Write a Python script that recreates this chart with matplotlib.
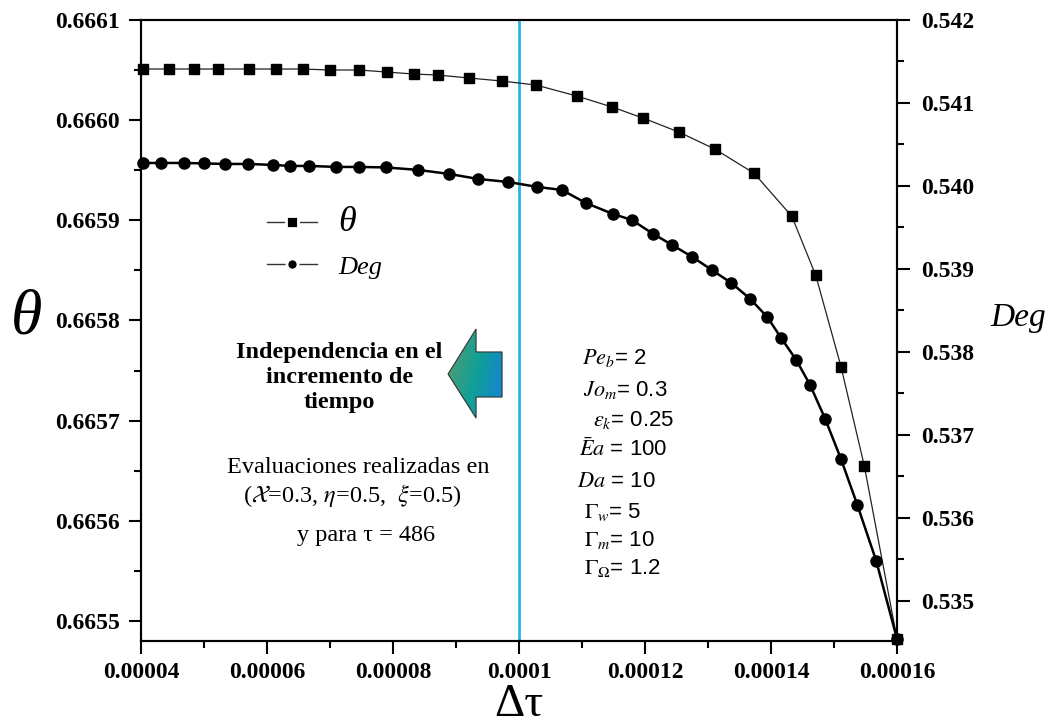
import numpy as np
import matplotlib
matplotlib.use('Agg')
import matplotlib.pyplot as plt
from matplotlib.lines import Line2D
from matplotlib.patches import Polygon
from matplotlib.colors import LinearSegmentedColormap

# theta (eje izquierdo) vs incremento de tiempo
dt_theta = [4.03e-5, 4.44e-5, 4.84e-5, 5.22e-5, 5.71e-5, 6.14e-5, 6.57e-5,
            7.0e-5, 7.46e-5, 7.9e-5, 8.33e-5, 8.71e-5, 9.21e-5, 9.73e-5,
            1.027e-4, 1.092e-4, 1.148e-4, 1.197e-4, 1.254e-4, 1.311e-4,
            1.373e-4, 1.433e-4, 1.471e-4, 1.511e-4, 1.548e-4, 1.6e-4]
theta = [0.666051, 0.666051, 0.666051, 0.666051, 0.666051, 0.666051, 0.666051,
         0.666050, 0.666050, 0.666048, 0.666046, 0.666045, 0.666042, 0.666039,
         0.666035, 0.666024, 0.666013, 0.666002, 0.665988, 0.665971,
         0.665947, 0.665904, 0.665845, 0.665754, 0.665655, 0.665482]

# Deg (eje derecho)
dt_deg = [4.03e-5, 4.32e-5, 4.68e-5, 5.0e-5, 5.33e-5, 5.70e-5, 6.10e-5, 6.37e-5,
          6.67e-5, 7.10e-5, 7.46e-5, 7.89e-5, 8.40e-5, 8.89e-5, 9.35e-5, 9.83e-5,
          1.029e-4, 1.068e-4, 1.106e-4, 1.149e-4, 1.179e-4, 1.213e-4, 1.243e-4,
          1.275e-4, 1.306e-4, 1.337e-4, 1.367e-4, 1.394e-4, 1.416e-4, 1.440e-4,
          1.462e-4, 1.486e-4, 1.511e-4, 1.537e-4, 1.567e-4, 1.6e-4]
deg = [0.540277, 0.540277, 0.540277, 0.540271, 0.540265, 0.540265, 0.540253,
       0.540241, 0.540241, 0.540229, 0.540229, 0.540223, 0.540193, 0.540145,
       0.540084, 0.540048, 0.539988, 0.539952, 0.539795, 0.539663, 0.539590,
       0.539422, 0.539289, 0.539145, 0.538988, 0.538831, 0.538639, 0.538422,
       0.538169, 0.537904, 0.537602, 0.537193, 0.536711, 0.536157, 0.535482,
       0.534542]

xticks = [4e-5, 6e-5, 8e-5, 1e-4, 1.2e-4, 1.4e-4, 1.6e-4]
xtick_labels = ['0.00004', '0.00006', '0.00008', '0.0001', '0.00012', '0.00014', '0.00016']
xminor = [5e-5, 7e-5, 9e-5, 1.1e-4, 1.3e-4, 1.5e-4]
theta_ticks = [0.6655, 0.6656, 0.6657, 0.6658, 0.6659, 0.6660, 0.6661]
theta_minor = [0.66555, 0.66565, 0.66575, 0.66585, 0.66595, 0.66605]
deg_ticks = [0.535, 0.536, 0.537, 0.538, 0.539, 0.540, 0.541, 0.542]
deg_minor = [0.5355, 0.5365, 0.5375, 0.5385, 0.5395, 0.5405, 0.5415]

params = [r'$Pe_b$= 2', r'$Jo_m$= 0.3', r'$\varepsilon_k$= 0.25', r'$\bar{E}a$ = 100',
          r'$Da$ = 10', r'$\Gamma_w$= 5', r'$\Gamma_m$= 10', r'$\Gamma_\Omega$= 1.2']

plt.rcParams['font.family'] = ['Liberation Serif', 'DejaVu Serif']
plt.rcParams['mathtext.fontset'] = 'stix'

fig = plt.figure(figsize=(10.51, 7.25), dpi=100)
ax = fig.add_axes([0.1342, 0.1159, 0.7193, 0.8566])
ax2 = ax.twinx()

ax.axvline(1e-4, color='#27b4e6', lw=2, zorder=1)
ax.plot(dt_theta, theta, color='#222222', lw=0.9, marker='s', ms=7.5,
        mfc='k', mec='k', clip_on=False, zorder=3)
ax2.plot(dt_deg, deg, color='k', lw=1.8, marker='o', ms=8,
         mfc='k', mec='k', clip_on=False, zorder=3)

ax.set_xlim(4e-5, 1.6e-4)
ax.set_ylim(0.66548, 0.6661)
ax2.set_ylim(0.534518, 0.542)

ax.set_xticks(xticks)
ax.set_xticklabels(xtick_labels, fontweight='bold')
ax.set_xticks(xminor, minor=True)
ax.set_yticks(theta_ticks)
ax.set_yticklabels(['%.4f' % v for v in theta_ticks], fontweight='bold')
ax.set_yticks(theta_minor, minor=True)
ax2.set_yticks(deg_ticks)
ax2.set_yticklabels(['%.3f' % v for v in deg_ticks], fontweight='bold')
ax2.set_yticks(deg_minor, minor=True)

for a in (ax, ax2):
    a.tick_params(which='major', direction='out', length=9, width=1.5, labelsize=17)
    a.tick_params(which='minor', direction='out', length=5, width=1.5)
    for s in a.spines.values():
        s.set_linewidth(1.5)
ax.tick_params(axis='y', pad=6)
ax.tick_params(axis='x', pad=6)
ax2.tick_params(axis='y', pad=8)

ax.set_ylabel('θ', rotation=0, fontsize=46, style='italic', va='center', ha='center')
ax.yaxis.set_label_coords(-0.151, 0.52)
ax2.set_ylabel('Deg', rotation=0, fontsize=24, style='italic', va='center', ha='center')
ax2.yaxis.set_label_coords(1.160, 0.52)
ax.set_xlabel('Δτ', fontsize=34, va='center')
ax.xaxis.set_label_coords(0.5, -0.103)

# leyenda
h1 = Line2D([], [], color='#333333', lw=1, marker='s', ms=8, mfc='k', mec='white', mew=2)
h2 = Line2D([], [], color='#333333', lw=1, marker='o', ms=8, mfc='k', mec='white', mew=2)
leg = ax2.legend([h1, h2], ['θ', 'Deg'], loc='upper left', bbox_to_anchor=(0.167, 0.70),
                 frameon=False, borderpad=0, borderaxespad=0, handlelength=1.9,
                 handletextpad=0.8, labelspacing=0.6,
                 prop={'family': 'Liberation Serif', 'style': 'italic', 'size': 19})
leg.get_texts()[0].set_fontsize(26)

# textos
ax2.text(0.262, 0.425, 'Independencia en el\nincremento de\ntiempo', transform=ax2.transAxes,
         ha='center', va='center', fontsize=17.5, fontweight='bold', linespacing=1.25)
ax2.text(0.287, 0.280, 'Evaluaciones realizadas en', transform=ax2.transAxes,
         ha='center', va='center', fontsize=17.5)
ax2.text(0.279, 0.234, r'($\mathcal{X}$=0.3, $\eta$=0.5,  $\xi$=0.5)', transform=ax2.transAxes,
         ha='center', va='center', fontsize=17.5)
ax2.text(0.298, 0.170, 'y para τ = 486', transform=ax2.transAxes,
         ha='center', va='center', fontsize=17.5)

param_x = [582, 583, 593, 579, 577, 584, 584, 584]
param_y = [358, 390, 420, 450, 482, 512, 540, 568]
for s, px, py in zip(params, param_x, param_y):
    ax2.text((px - 141) / 756, (641 - py) / 621, s, transform=ax2.transAxes,
             ha='left', va='center', fontsize=16, family='Liberation Sans')

# flecha con degradado
arr_ax = fig.add_axes([0.4263, 0.4234, 0.0514, 0.1228])
arr_ax.set_xlim(0, 1)
arr_ax.set_ylim(0, 1)
arr_ax.axis('off')
gx, gy = np.meshgrid(np.linspace(0, 1, 100), np.linspace(0, 1, 100))
grad = 0.75 * gx + 0.25 * (1 - gy)
cmap = LinearSegmentedColormap.from_list('flecha', ['#5c9a6c', '#11a096', '#1581dc'])
im = arr_ax.imshow(grad, extent=[0, 1, 0, 1], origin='lower', cmap=cmap, aspect='auto')
pts = [(0, 0.494), (0.5185, 1.0), (0.5185, 0.742), (1, 0.742),
       (1, 0.236), (0.5185, 0.236), (0.5185, 0), (0, 0.494)]
poly = Polygon(pts, closed=True, fc='none', ec='#333333', lw=0.8, clip_on=False)
arr_ax.add_patch(poly)
im.set_clip_path(poly)

fig.savefig('out.png', dpi=100)
